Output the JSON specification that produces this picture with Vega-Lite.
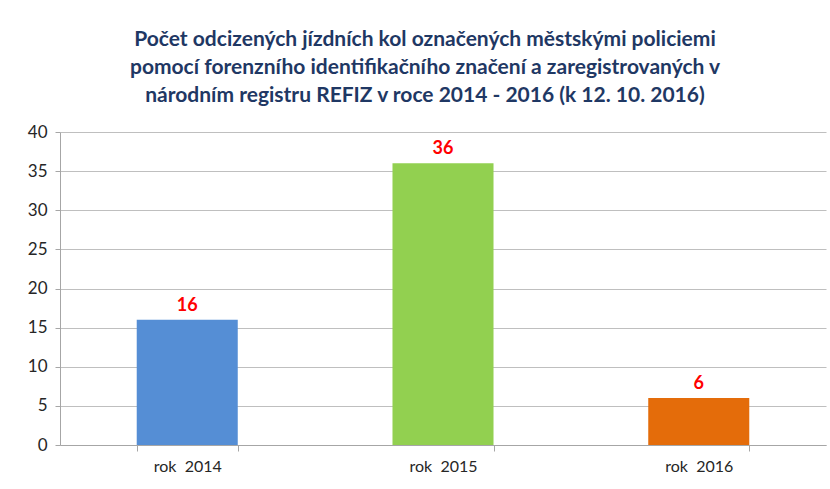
{
  "$schema": "https://vega.github.io/schema/vega-lite/v6.json",
  "autosize": "none",
  "width": 766,
  "height": 313,
  "padding": {"left": 60, "top": 132, "right": 4, "bottom": 44},
  "background": "white",
  "config": {"view": {"stroke": null}, "font": "Lato"},
  "title": {
    "text": ["Počet odcizených jízdních kol označených městskými policiemi", "pomocí forenzního identifikačního značení a zaregistrovaných v", "národním registru REFIZ v roce 2014 - 2016 (k 12. 10. 2016)"],
    "font": "Lato",
    "fontSize": 21,
    "fontWeight": "bold",
    "color": "#1F3864",
    "lineHeight": 28,
    "anchor": "middle",
    "dx": -18,
    "offset": 17
  },
  "data": {"values": [
    {"rok": "rok\u00a0\u00a02014", "pocet": 16},
    {"rok": "rok\u00a0\u00a02015", "pocet": 36},
    {"rok": "rok\u00a0\u00a02016", "pocet": 6}
  ]},
  "encoding": {
    "x": {
      "field": "rok", "type": "nominal", "sort": null,
      "scale": {"paddingInner": 0.605, "paddingOuter": 0.3},
      "axis": {"title": null, "labelAngle": 0, "tickBand": "extent", "domainColor": "#A6A6A6", "tickColor": "#A6A6A6", "tickSize": 6, "labelFontSize": 16, "labelColor": "#262626", "labelPadding": 7, "labelFont": "Lato"}
    },
    "y": {
      "field": "pocet", "type": "quantitative",
      "scale": {"domain": [0, 40]},
      "axis": {"title": null, "values": [0, 5, 10, 15, 20, 25, 30, 35, 40], "gridColor": "#BFBFBF", "domainColor": "#A6A6A6", "tickColor": "#A6A6A6", "tickSize": 5, "labelFontSize": 17, "labelColor": "#262626", "labelPadding": 8, "labelFont": "Lato"}
    }
  },
  "layer": [
    {
      "mark": {"type": "bar"},
      "encoding": {
        "color": {"field": "rok", "type": "nominal", "scale": {"range": ["#558ED5", "#92D050", "#E46C0A"]}, "legend": null}
      }
    },
    {
      "mark": {"type": "text", "dy": -14, "fontSize": 18, "fontWeight": "bold", "color": "#FF0000", "font": "Lato"},
      "encoding": {"text": {"field": "pocet", "type": "quantitative"}}
    }
  ]
}
